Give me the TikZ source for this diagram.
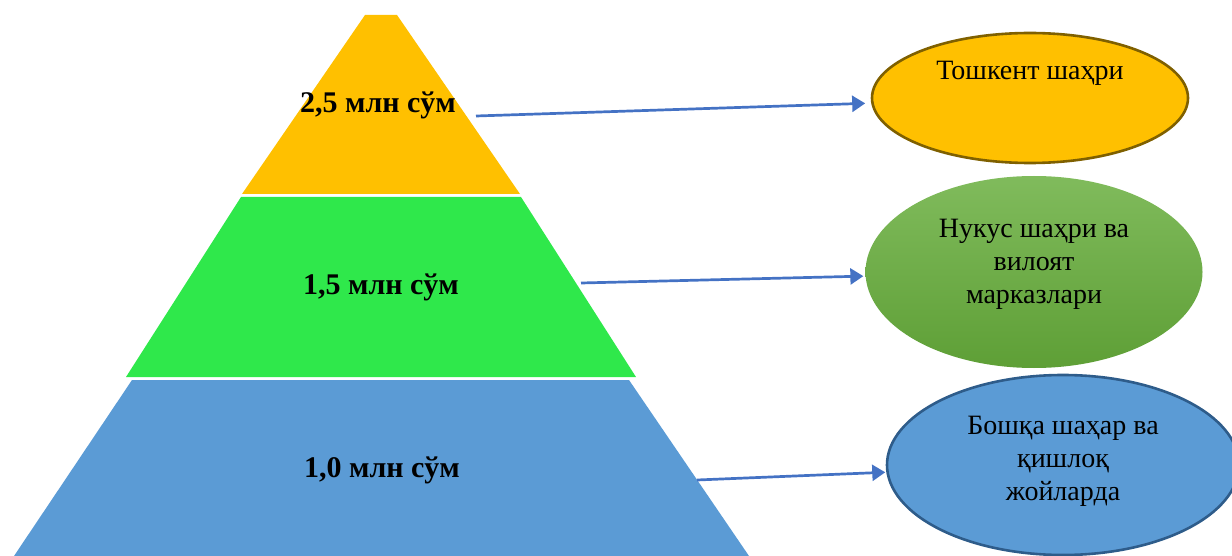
\documentclass[tikz,border=0pt]{standalone}
\usepackage{fontspec}
\setmainfont{Liberation Serif}
\usepackage{tikz}
\usetikzlibrary{arrows.meta,shapes.geometric,positioning}

\definecolor{gold}{HTML}{FFC000}
\definecolor{goldedge}{HTML}{7F6000}
\definecolor{lime}{HTML}{2FE84B}
\definecolor{steel}{HTML}{5B9BD5}
\definecolor{steeledge}{HTML}{2E5C8A}
\definecolor{leaftop}{HTML}{80BB5C}
\definecolor{leafbot}{HTML}{5E9F36}
\definecolor{arrowblue}{HTML}{4472C4}

\begin{document}
\begin{tikzpicture}[->,>={Triangle[length=13pt,width=16pt]},shorten >=1pt,%
        x=1pt,y=-1pt,inner sep=0pt,node distance=20pt,
        level/.style={font=\bfseries\fontsize{30}{36}\selectfont},
        city/.style={ellipse,line width=2.6pt},
        cityname/.style={font=\fontsize{28}{33}\selectfont,align=center},
        link/.style={draw=arrowblue,line width=2.7pt}]

  \useasboundingbox (0,0) rectangle (1232,556);

  % pyramid
  \fill[gold]  (365,15) -- (397,15) -- (520,194) -- (242,194) -- cycle;
  \fill[lime]  (241,197) -- (521,197) -- (636,377) -- (126,377) -- cycle;
  \fill[steel] (132,380) -- (629,380) -- (749,556) -- (14,556) -- cycle;

  \node[level] (L1) at (378,105) {2,5 млн сўм};
  \node[level] (L2) at (381,287) {1,5 млн сўм};
  \node[level] (L3) at (382,470) {1,0 млн сўм};

  \coordinate (S1) at (476,116);
  \coordinate (S2) at (581,283);
  \coordinate (S3) at (697,480);

  % cities
  \node[city,fill=gold,draw=goldedge,minimum width=316pt,minimum height=130pt]
        (T) at (1030,98) {};
  \node[city,top color=leaftop,bottom color=leafbot,minimum width=337pt,minimum height=192pt]
        (N) at (1034,272) {};
  \node[city,fill=steel,draw=steeledge,minimum width=352pt,minimum height=180pt]
        (B) at (1063,465) {};

  \node[cityname] (Tn) [below=29pt of T.north] {Тошкент шаҳри};
  \node[cityname] (Nn) at ([yshift=8pt]N.center) {Нукус шаҳри ва\\вилоят\\марказлари};
  \node[cityname] (Bn) at ([yshift=4pt]B.center) {Бошқа шаҳар ва\\қишлоқ\\жойларда};

  \path
  (S1) edge[link,shorten >=6pt] (T)
  (S2) edge[link] (N)
  (S3) edge[link] (B);

\end{tikzpicture}
\end{document}
